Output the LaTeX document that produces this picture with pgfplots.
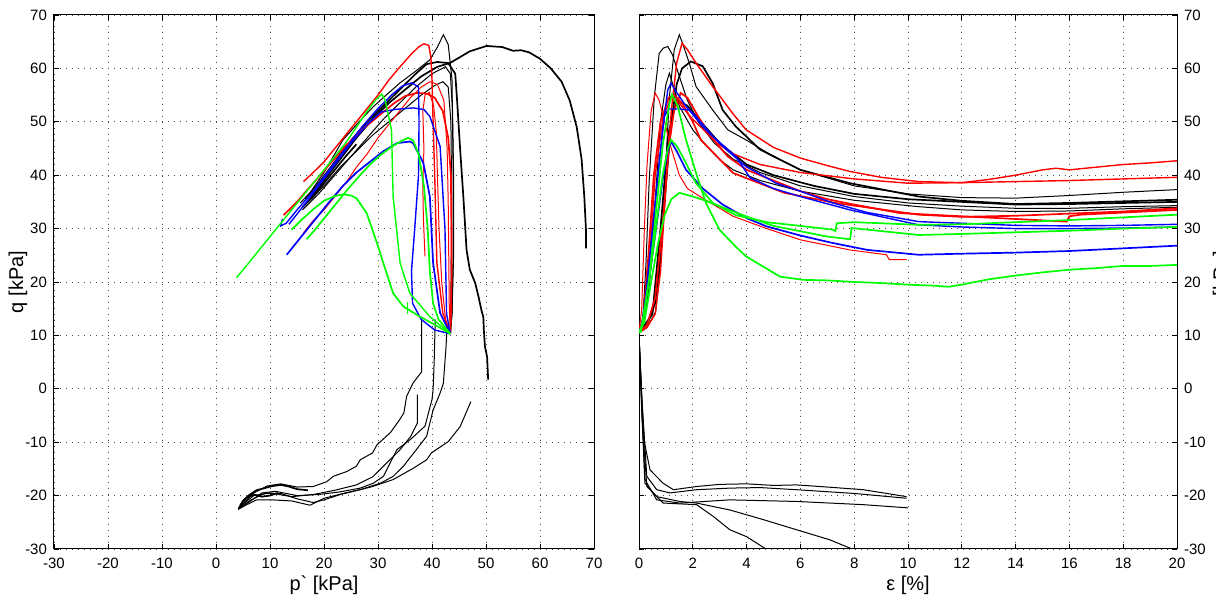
\documentclass[border=0pt]{standalone}
\usepackage{fontspec}
\setmainfont{Liberation Sans}
\newfontfamily\plainsans{Liberation Sans}
\usepackage{pgfplots}
\pgfplotsset{compat=1.18}
\begin{document}
\begin{tikzpicture}
\useasboundingbox (0pt,0pt) rectangle (608pt,298.5pt);
\pgfplotsset{
 common/.style={
  scale only axis, width=270pt, height=267pt,
  ymin=-30, ymax=70, ytick={-30,-20,...,70},
  grid=major,
  major grid style={black!70, line width=0.45pt, dash pattern=on 0.45pt off 2.55pt},
  axis line style={line width=0.5pt},
  tick align=inside, major tick length=2.5pt,
  tick style={black, line width=0.45pt},
  every tick label/.append style={font=\fontsize{7.5}{9}\selectfont},
  label style={font=\fontsize{7.5}{9}\selectfont},
  xticklabel style={yshift=-1pt},
  /pgf/number format/assume math mode=true,
  /pgf/number format/1000 sep={},
 },
 tn/.style={line width=0.5pt},
 tk/.style={line width=0.85pt},
 cl/.style={line width=0.7pt},
}
% ===================== LEFT: q vs p' =====================
\begin{axis}[common, at={(27pt,24pt)}, anchor=south west,
  xmin=-30, xmax=70, xtick={-30,-20,...,70},
  xlabel={p{\plainsans `} [kPa]}, ylabel={q [kPa]},
  every axis x label/.style={at={(axis description cs:0.5,-0.0674)},anchor=center},
  every axis y label/.style={at={(axis description cs:-0.0667,0.5)},rotate=90,anchor=center},
]
% black compression
\addplot[black,tn] coordinates {(15.6,34.8) (17.4,36.7) (20,40.5) (23.5,46.6) (26.5,50) (29.1,52.8) (31.5,55) (34.1,57.3) (37,59.5) (39.6,61.6) (41,64) (42.1,66.3) (43,64.5) (43.7,58) (43.9,42) (43.9,24) (43.7,14) (43.4,10.3)};
\addplot[black,tk] coordinates {(16.5,35.5) (19,38.5) (22,42.5) (25,46.5) (28,50) (31,53) (34,56) (37,59) (39,60.8) (41,61.2) (43,61) (44.3,59) (44.6,54.7) (45.2,45) (45.8,36) (46.4,26) (47,22.3) (48,19.8) (48.6,17.3) (49.2,14.5) (49.5,13.5) (49.6,11) (49.8,7.9) (50.2,6) (50.4,1.7)};
\addplot[black,tk] coordinates {(17,35) (20,39) (23,43) (26,47) (29,50.5) (32,53.5) (35,56) (38,58.5) (41,60.3) (43.3,61) (45,62) (47,63.2) (50.1,64.2) (53,64) (55,63.3) (56.5,63.4) (58,63) (60,61.8) (62,60) (64,57.5) (65.5,54) (66.8,49) (67.7,43) (68.2,36) (68.5,30) (68.5,26.3)};
\addplot[black,tn] coordinates {(17.6,35.5) (20,38) (23,41.5) (26,44.5) (29,47.5) (32,50) (35,52.5) (38,55) (40.5,56.8) (42,57.5) (43,56.5) (43.5,50) (43.6,40) (43.6,28) (43.5,18) (43.4,10.3)};
\addplot[black,tn] coordinates {(16,33.5) (19,36.5) (22,40) (25,43.5) (28,47) (31,50.5) (34,53.5) (37,56.5) (40,59) (42.5,60.3) (43.4,59) (43.8,52) (44,40) (44,25) (43.7,14) (43.4,10.3)};
\addplot[black,tk] coordinates {(16,34) (18,36) (20,38.5) (22,41) (24,43.5) (26,45.8)};
% black extension
\addplot[black,tn] coordinates {(38.1,13) (38.1,8) (38.1,3.2) (36.5,1.1) (35.3,-1.4) (34.8,-4.5) (34,-5.8) (32.3,-8.2) (29.8,-10.5) (29,-12) (26.7,-13.3) (26,-14.5) (24.2,-15.5) (21.7,-16.4) (20.5,-17.4) (18,-18.3) (15,-18.4) (12,-17.8) (9.5,-18.2) (7,-19.5) (5.5,-21) (4.1,-22.5)};
\addplot[black,tn] coordinates {(40.6,13) (40.4,5) (40.2,-0.2) (40,-2) (38.7,-7) (36,-9.5) (33.5,-11.4) (31,-16.4) (29.1,-17.7) (26.7,-18.6) (23,-19.3) (19,-19.8) (15,-20) (11,-19.2) (8.5,-19.5) (6,-21.3) (4.3,-22.3)};
\addplot[black,tn] coordinates {(42.8,12) (42.6,7.9) (42.1,1) (41.5,-0.8) (40.2,-4) (39,-8.9) (37.1,-11.4) (34.7,-14.5) (32.8,-16.4) (30.4,-17.7) (27,-18.8) (24,-19.5) (20,-20.5) (17.4,-21.8) (14,-21) (10.4,-20.8) (7.5,-20.8) (5.5,-21.8) (4.1,-22.6)};
\addplot[black,tn] coordinates {(37.3,-1.1) (37.3,-6.4) (36,-9) (34,-11.5) (31.5,-14) (29,-16.5) (26,-18) (22,-19) (18,-19.8) (14,-20.2) (10,-19.5) (7,-20) (4.5,-22)};
\addplot[black,tn] coordinates {(47.2,-2.4) (45.2,-7.1) (43,-9.9) (39.9,-12) (39,-13.3) (36.5,-14.9) (32.8,-17) (29,-18.3) (26.7,-18.9) (23,-19.8) (20,-20.8) (18,-21.3) (15,-20.6) (12,-19.6) (9,-19.6) (6.5,-20.8) (4.5,-22.2)};
\addplot[black,tk] coordinates {(4.2,-22.4) (5,-21) (6,-20) (7.5,-19) (9,-18.6) (10.5,-18.2) (12,-18) (13.5,-18.3) (15,-18.8) (17,-19)};
\addplot[black,tk] coordinates {(4.5,-21.8) (5.5,-20.5) (7,-19.8) (8.5,-20.2) (10,-20) (11.5,-19.5)};
% red
\addplot[red,cl] coordinates {(16.2,38.8) (18,40.5) (20,42.5) (22,45) (24,47.5) (26,50) (28,52.5) (30,55) (32,57.8) (34,60.2) (36,62.5) (37.5,64) (38.5,64.6) (39.4,64.3) (39.8,62) (40,58) (40.2,50) (40.5,40) (40.9,23.6) (42,14.2) (43.4,10.3)};
\addplot[red,tk] coordinates {(12.5,32.5) (15,35) (18,38.5) (21,42) (24,45.5) (27,48.5) (30,51) (33,53.5) (35,54.8) (37.2,55.4) (39,55.3) (40.5,54.5) (42,52) (43,47) (43.5,40) (43.6,30) (43.6,20) (43.5,14) (43.4,10.3)};
\addplot[red,tn] coordinates {(16.2,29.2) (18,31.5) (20,33.5) (22,36) (24,38.5) (26,41.5) (28,44) (30,47) (32,49.5) (34,52) (36,54.5) (38,56.5) (39.6,57.5) (41,57) (42.2,54) (42.8,45) (43,35) (43.1,25) (43.2,15) (43.4,10.3)};
\addplot[red,tn] coordinates {(43.4,10.3) (42.5,13) (41.8,20) (41.3,30) (41,40) (40.8,48) (40.3,53) (39.5,55.5) (38.7,55) (38.3,52) (38.5,45) (38.3,38) (38.4,32) (38.7,24.8)};
% blue
\addplot[blue,cl] coordinates {(12.3,31.8) (12,30.5) (13,31) (15,33.5) (18,37) (21,41) (24,45) (27,49) (30,52.5) (32.5,55) (34.5,56.7) (36.3,57.3) (37.5,56.5) (37.6,50) (37.5,40) (36.8,30) (36.2,22) (36.4,16) (38,13) (40.5,11) (43.4,10.3)};
\addplot[blue,cl] coordinates {(13.5,30.8) (16,34) (19,38) (22,42) (25,46) (28,49.5) (30.5,51.8) (33,52.3) (36.5,52.6) (38.5,52.3) (39.6,51) (41.5,45.4) (42.4,30) (42.7,14) (43.4,10.3)};
\addplot[blue,tk] coordinates {(13.1,25.1) (15,27.5) (17,30) (19,32.5) (21,35) (23.5,38) (26,40.5) (28.5,42.5) (31,44.5) (33.5,46) (35.9,46.3) (36.5,46) (38.4,42.3) (39.6,36) (40.2,23.6) (41.5,14.2) (43.4,10.3)};
% green
\addplot[green,cl] coordinates {(3.8,20.8) (6,23.5) (8,26) (10,28.5) (12,31) (14,33.5) (16,36) (18,38.5) (20,41) (22,43.5) (24,46) (26,49) (28,52) (29.5,54) (30.7,55.2) (31.3,54.1) (32.5,48.5) (32.8,36) (34.1,23.5) (35.9,17.9) (39.6,13.5) (43.4,10.3)};
\addplot[green,tk] coordinates {(16.8,28) (18.5,30) (20.5,32.5) (22.5,35) (24.5,37.5) (26.5,39.8) (28.5,42) (30.5,43.8) (32.5,45.3) (34.5,46.5) (35.6,47) (36.5,46.5) (37.5,44) (38.5,38) (39.2,30) (39.6,22) (40.2,16) (41.2,13) (43.4,10.3)};
\addplot[green,tk] coordinates {(14,29.8) (16,31.8) (18,33.6) (20,35.2) (22,36.1) (23.5,36.4) (25,36.2) (26,35.7) (27.9,32.9) (29.8,27.3) (31,23.5) (32.8,17.9) (34.7,15.4) (37.8,13.5) (40.5,12) (43.4,10.3)};
\addplot[green,cl] coordinates {(35.5,14) (35.5,16.3)};
\end{axis}
% ===================== RIGHT: q vs eps =====================
\begin{axis}[common, at={(319.5pt,24pt)}, anchor=south west, width=269pt,
  xmin=0, xmax=20, xtick={0,2,...,20},
  yticklabel pos=right,
  xlabel={ε [\%]}, ylabel={q [kPa]},
  every axis x label/.style={at={(axis description cs:0.5,-0.0674)},anchor=center},
  every axis y label/.style={at={(axis description cs:1.084,0.5)},rotate=90,anchor=center},
]
% black compression
\addplot[black,tn] coordinates {(0,10.5) (0.14,12.9) (0.26,23.5) (0.38,39.1) (0.57,54.7) (0.75,62.8) (0.9,63.8) (1.07,64.1) (1.25,62.5) (1.5,58.5) (1.8,54) (2.2,50) (2.8,46) (3.5,43) (4.5,40.5) (6,38) (8,36) (10,34.8) (12,34.2) (14,33.8) (16,33.8) (18,34.1) (20,34.3)};
\addplot[black,tn] coordinates {(0,10.5) (0.3,11.5) (0.62,14.4) (0.75,20.6) (0.88,29.8) (1.0,42.3) (1.13,54.7) (1.31,63.5) (1.5,66.3) (1.62,64.7) (1.87,61) (2.12,56.6) (2.74,52.2) (3.3,48.5) (3.98,46.6) (5,43.5) (6,41) (8,38) (10,36.5) (12,35.8) (14,35.7) (16,36.2) (18,36.8) (20,37.3)};
\addplot[black,tk] coordinates {(0,10.5) (0.3,12) (0.6,16) (0.8,25) (1.0,38) (1.2,50) (1.4,57) (1.6,60) (1.93,61.3) (2.37,60.4) (2.74,57.2) (3.11,52.2) (3.6,49.1) (4.5,44.8) (6,41) (7.84,38.5) (10.4,36) (12,35.2) (14,34.6) (16,34.8) (18,35.1) (20,35.4)};
\addplot[black,tn] coordinates {(0,10.5) (0.2,13) (0.4,20) (0.6,35) (0.8,50) (1.0,57) (1.13,59.1) (1.5,52.9) (2.0,48.5) (2.5,45.5) (3.0,42.9) (3.5,41) (4.5,39) (6,37) (8,35.3) (10.4,34.1) (12,33.5) (14,33.2) (16,33.3) (18,33.7) (20,34)};
\addplot[black,tk] coordinates {(0,10.5) (0.5,14) (0.8,30) (1.1,48) (1.4,54) (1.8,53) (2.3,50) (3,46) (4,42) (5,40) (6.5,38) (8,36.5) (10,35.5) (12,35) (14,34.5) (16,34.6) (18,34.8) (20,35)};
% black extension
\addplot[black,tn] coordinates {(0,10) (0.1,-1.4) (0.2,-10) (0.41,-15.2) (0.9,-17.7) (1.28,-18.9) (2.14,-18.3) (3,-17.9) (4.0,-17.8) (5,-18.1) (5.86,-18) (7,-18.4) (8.34,-18.9) (9.95,-20.2)};
\addplot[black,tn] coordinates {(0,10) (0.12,-3) (0.29,-16.4) (0.66,-18.9) (1.15,-19.5) (2.14,-18.9) (3.38,-18.6) (4.5,-18.5) (5.86,-18.9) (8,-19.6) (9.95,-20.5)};
\addplot[black,tn] coordinates {(0,10) (0.1,-2) (0.22,-17) (0.66,-20.8) (1.52,-21.4) (3.38,-20.8) (5.86,-21.1) (8.34,-21.7) (10,-22.3)};
\addplot[black,tn] coordinates {(0,10) (0.1,-4) (0.22,-17.7) (0.66,-20.2) (1.52,-21.1) (2.14,-21.4) (3.38,-22.7) (4.62,-24.5) (5.86,-26.4) (7.1,-28.3) (7.97,-30.1)};
\addplot[black,tn] coordinates {(0,10) (0.12,-6) (0.29,-18.3) (0.9,-21.4) (2.14,-21.7) (2.76,-23.9) (3.38,-26.4) (4.0,-27.7) (4.75,-30.1)};
% red
\addplot[red,cl] coordinates {(0,10.5) (0.3,11.5) (0.6,14) (0.8,22) (1.0,38) (1.2,52) (1.4,61) (1.6,64.7) (1.8,63.5) (2.12,61) (2.74,56.6) (3.48,51.6) (3.98,48.5) (5,45.2) (6,43.2) (7,41.8) (7.84,40.7) (9,39.6) (10.4,38.8) (12,38.6) (13,39.2) (14,40) (15,41) (15.5,41.3) (16,41) (17,41.5) (18,42) (19,42.3) (20,42.7)};
\addplot[red,tn] coordinates {(0,10.5) (0.1,15) (0.2,30) (0.3,42) (0.45,52) (0.6,55.4) (0.75,54) (0.95,50) (1.2,45) (1.5,40) (1.8,37.5) (2.27,36) (3.5,32.3) (4.75,30) (6.0,27.9) (7.84,26) (9.2,25.1) (9.3,24.2) (9.95,24.2)};
\addplot[red,tk] coordinates {(0,10.5) (0.3,12) (0.6,17) (0.9,32) (1.1,45) (1.3,52) (1.55,55.4) (1.8,54.5) (2.2,51) (2.7,47) (3.3,43.5) (4,41) (5,39) (6,37) (7,35.5) (8,34.5) (9.7,32.9) (12,32.3) (14,31.8) (15.9,31.3) (16,32.3) (16.4,32.6) (18,33) (20,33.5)};
\addplot[red,cl] coordinates {(0,10.5) (0.2,14) (0.4,25) (0.6,40) (0.9,51) (1.2,54.5) (1.5,53.5) (1.9,51) (2.3,49) (2.9,46) (3.5,44) (4.5,42) (6,40.5) (8,39.3) (10,38.5) (12,38.6) (14,38.8) (16,39) (18,39.3) (20,39.6)};
\addplot[red,tk] coordinates {(0,10.5) (0.15,13) (0.35,25) (0.55,40) (0.8,50) (1.1,54.5) (1.3,55) (1.6,53.5) (2.0,50) (2.3,46.6) (3.5,40.4) (5.4,36.7) (7.3,34.8) (10.4,32.6) (12,32.2) (14,32.4) (16,32.8) (18,33.2) (20,33.8)};
% blue
\addplot[blue,cl] coordinates {(0,10.5) (0.14,12.4) (0.38,23.6) (0.63,36) (0.88,48.5) (1.07,56) (1.19,57.2) (1.4,55.5) (1.75,52.9) (2.37,49.1) (3.11,45.4) (3.98,41.6) (5.1,38.5) (6,37) (7.2,34.8) (8.5,33) (10.4,31.3) (12,31) (14,30.6) (16,30.5) (18,30.6) (20,30.8)};
\addplot[blue,cl] coordinates {(0,10.5) (0.1,12) (0.26,17.3) (0.5,29.8) (0.75,42.3) (0.94,51) (1.1,52.4) (1.5,52.4) (1.87,52.2) (2.12,51) (2.74,47.3) (3.6,43.5) (4.13,39.5) (5,37.5) (6,36) (7.84,33.5) (10.4,30.7) (12,30.3) (14,30) (16,30) (18,30.1) (20,30.3)};
\addplot[blue,tk] coordinates {(0,10.5) (0.14,12.4) (0.38,20.6) (0.63,29.8) (0.88,39.2) (1.07,44.6) (1.19,46.3) (1.4,44.5) (1.75,41) (2.37,37.5) (3.11,34.5) (3.98,32) (4.75,30.4) (6,28.7) (7.2,27.3) (8.5,26) (10.4,25.1) (12,25.3) (14,25.5) (16,25.8) (18,26.3) (20,26.8)};
% green
\addplot[green,tk] coordinates {(0,10.5) (0.07,10.7) (0.38,20.6) (0.63,33.1) (0.88,45.6) (1.13,53.4) (1.23,55.1) (1.44,52.9) (1.75,46.6) (2.12,40.4) (2.49,34.8) (2.99,29.8) (3.6,26.6) (3.98,24.8) (5.24,21) (6.1,20.4) (7,20.3) (8,20) (9,19.8) (10,19.5) (11,19.3) (11.5,19.1) (12,19.5) (13,20.5) (14,21.2) (15,21.8) (16,22.3) (17,22.6) (18,23) (19,23) (20,23.2)};
\addplot[green,tk] coordinates {(0,10.5) (0.14,12.4) (0.38,20.6) (0.63,30) (0.88,40) (1.07,45) (1.19,46.6) (1.4,45.5) (1.62,43.5) (2.12,38.5) (2.74,34.8) (3.6,32.5) (4.75,31.2) (6,30.5) (7.2,29.8) (7.3,29.5) (7.35,31) (8,31.2) (9,31) (10.4,30.7) (12,30.8) (14,31.2) (16,31.6) (18,32.1) (20,32.6)};
\addplot[green,tk] coordinates {(0,10.5) (0.2,12.5) (0.45,20) (0.7,27) (0.95,32.5) (1.2,35.5) (1.5,36.7) (2,36) (2.37,35.4) (2.99,34.2) (3.98,32.3) (5,30.5) (6,29.5) (7,28.5) (7.85,28) (7.9,30.1) (8.5,29.8) (10.4,28.8) (12,29) (14,29.3) (16,29.6) (18,30) (20,30.3)};
\end{axis}
\end{tikzpicture}
\end{document}
